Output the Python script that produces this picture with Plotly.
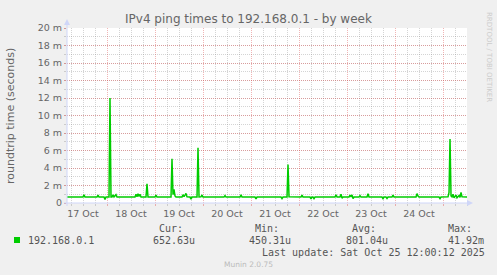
import plotly.graph_objects as go

# ---- data (ping round-trip time, milliseconds) ----
sample_times = [
    "2025-10-17 04:00", "2025-10-17 12:00", "2025-10-17 12:30", "2025-10-17 13:00",
    "2025-10-17 19:00", "2025-10-17 19:30", "2025-10-17 20:00", "2025-10-17 22:30",
    "2025-10-17 23:00", "2025-10-17 23:30", "2025-10-18 01:00", "2025-10-18 01:30",
    "2025-10-18 02:00", "2025-10-18 02:30", "2025-10-18 03:00", "2025-10-18 03:30",
    "2025-10-18 04:30", "2025-10-18 05:00", "2025-10-18 14:00", "2025-10-18 14:30",
    "2025-10-18 15:00", "2025-10-18 15:30", "2025-10-18 16:00", "2025-10-18 16:30",
    "2025-10-18 17:00", "2025-10-18 19:30", "2025-10-18 20:00", "2025-10-18 20:30",
    "2025-10-19 00:00", "2025-10-19 00:30", "2025-10-19 01:00", "2025-10-19 08:00",
    "2025-10-19 08:30", "2025-10-19 09:00", "2025-10-19 09:30", "2025-10-19 10:00",
    "2025-10-19 10:30", "2025-10-19 13:30", "2025-10-19 14:00", "2025-10-19 14:30",
    "2025-10-19 15:00", "2025-10-19 15:30", "2025-10-19 16:00", "2025-10-19 17:30",
    "2025-10-19 18:00", "2025-10-19 18:30", "2025-10-19 21:00", "2025-10-19 21:30",
    "2025-10-19 22:00", "2025-10-19 23:00", "2025-10-19 23:30", "2025-10-20 00:00",
    "2025-10-20 10:30", "2025-10-20 11:00", "2025-10-20 11:30", "2025-10-20 18:30",
    "2025-10-20 19:00", "2025-10-20 19:30", "2025-10-21 02:00", "2025-10-21 02:30",
    "2025-10-21 03:00", "2025-10-21 15:00", "2025-10-21 15:30", "2025-10-21 16:00",
    "2025-10-21 18:00", "2025-10-21 18:30", "2025-10-21 19:00", "2025-10-22 01:00",
    "2025-10-22 01:30", "2025-10-22 02:00", "2025-10-22 05:30", "2025-10-22 06:00",
    "2025-10-22 06:30", "2025-10-22 07:00", "2025-10-22 07:30", "2025-10-22 08:00",
    "2025-10-22 18:00", "2025-10-22 18:30", "2025-10-22 19:00", "2025-10-22 20:30",
    "2025-10-22 21:00", "2025-10-22 21:30", "2025-10-22 22:00", "2025-10-23 01:00",
    "2025-10-23 01:30", "2025-10-23 02:00", "2025-10-23 02:30", "2025-10-23 03:00",
    "2025-10-23 03:30", "2025-10-23 06:00", "2025-10-23 06:30", "2025-10-23 07:00",
    "2025-10-23 10:00", "2025-10-23 10:30", "2025-10-23 11:00", "2025-10-23 17:30",
    "2025-10-23 18:00", "2025-10-23 18:30", "2025-10-23 19:30", "2025-10-23 20:00",
    "2025-10-23 20:30", "2025-10-23 22:30", "2025-10-23 23:00", "2025-10-23 23:30",
    "2025-10-24 10:30", "2025-10-24 11:00", "2025-10-24 11:30", "2025-10-24 12:00",
    "2025-10-24 22:00", "2025-10-24 22:30", "2025-10-24 23:00", "2025-10-25 02:30",
    "2025-10-25 03:00", "2025-10-25 03:30", "2025-10-25 04:00", "2025-10-25 04:30",
    "2025-10-25 05:00", "2025-10-25 05:30", "2025-10-25 06:30", "2025-10-25 07:00",
    "2025-10-25 08:00", "2025-10-25 08:30", "2025-10-25 09:00", "2025-10-25 09:30",
    "2025-10-25 12:00",
]
rtt_ms = [
    0.68, 0.68, 0.95, 0.68,
    0.68, 0.90, 0.68, 0.68,
    0.42, 0.68, 0.68, 12.0,
    0.70, 0.70, 0.92, 0.70,
    0.95, 0.68, 0.68, 1.00,
    0.72, 1.05, 0.75, 1.00,
    0.68, 0.68, 2.20, 0.68,
    0.68, 0.90, 0.68, 0.68,
    5.05, 0.95, 1.55, 0.80,
    0.68, 0.68, 0.95, 0.72,
    0.90, 1.10, 0.70, 0.68,
    0.45, 0.68, 0.68, 6.30,
    0.68, 0.70, 0.92, 0.68,
    0.68, 0.85, 0.68, 0.68,
    0.95, 0.68, 0.68, 0.48,
    0.68, 0.68, 0.50, 0.68,
    0.68, 4.40, 0.70, 0.68,
    0.90, 0.68, 0.68, 0.48,
    0.68, 0.68, 0.50, 0.68,
    0.68, 0.95, 0.70, 0.70,
    1.00, 0.55, 0.68, 0.68,
    0.90, 0.70, 0.92, 0.50,
    0.68, 0.68, 0.85, 0.68,
    0.68, 1.05, 0.68, 0.68,
    0.50, 0.68, 0.68, 0.52,
    0.68, 0.68, 0.92, 0.68,
    0.68, 1.07, 0.80, 0.68,
    0.68, 0.50, 0.68, 0.70,
    1.20, 7.30, 0.80, 0.70,
    1.00, 0.60, 0.90, 0.60,
    0.85, 0.65, 1.20, 0.70,
    0.68,
]
x_range = ["2025-10-17 04:00", "2025-10-25 11:59:30"]
y_tick_vals = [0, 2, 4, 6, 8, 10, 12, 14, 16, 18, 20]
y_tick_text = ["0", "2 m", "4 m", "6 m", "8 m", "10 m", "12 m", "14 m", "16 m", "18 m", "20 m"]

series_name = "192.168.0.1"
stat_labels = ["Cur:", "Min:", "Avg:", "Max:"]
stat_values = ["652.63u", "450.31u", "801.04u", "41.92m"]
title_text = "IPv4 ping times to 192.168.0.1 - by week"
y_title = "roundtrip time (seconds)"
last_update = "Last update: Sat Oct 25 12:00:12 2025"
footer = "Munin 2.0.75"
watermark = "RRDTOOL / TOBI OETIKER"

# ---- layout helpers (pixel -> paper) ----
L, R, T, B = 67, 30, 28, 72
W, H = 497, 275
PW, PH = W - L - R, H - T - B


def px(x):
    return (x - L) / PW


def py(y):
    return (H - B - y) / PH


FONT = "DejaVu Sans"
MONO = "DejaVu Sans Mono"
TXT = "#666666"
MGRID = "rgba(222,79,79,0.42)"
GRID = "rgba(143,143,143,0.38)"
AXIS = "#CFD6F8"

fig = go.Figure(
    go.Scatter(
        x=sample_times, y=rtt_ms, mode="lines",
        line=dict(color="#00cc00", width=1.5),
        hoverinfo="skip", showlegend=False,
    )
)

fig.update_layout(
    width=W, height=H,
    margin=dict(l=L, r=R, t=T, b=B, pad=0),
    paper_bgcolor="#f0f0f0", plot_bgcolor="#ffffff",
    font=dict(family=FONT, color=TXT, size=10),
    showlegend=False,
)

fig.update_xaxes(
    type="date", range=x_range,
    tick0="2025-10-17", dtick=86400000,
    ticklabelmode="period", tickformat="%d %b",
    showgrid=True, gridcolor=MGRID, griddash="1px,1px", gridwidth=1,
    ticks="outside", ticklen=2, tickcolor=MGRID,
    minor=dict(tick0="2025-10-17", dtick=21600000, showgrid=True,
               gridcolor=GRID, griddash="1px,1px", gridwidth=1,
               ticks="outside", ticklen=2, tickcolor=GRID),
    showline=False, zeroline=False,
    tickfont=dict(family=FONT, size=9.5, color=TXT),
    fixedrange=True,
)
fig.update_yaxes(
    range=[0, 20], tickmode="array", tickvals=y_tick_vals, ticktext=y_tick_text,
    showgrid=True, gridcolor=MGRID, griddash="1px,1px", gridwidth=1,
    ticks="outside", ticklen=2, tickcolor=MGRID,
    minor=dict(tick0=0, dtick=1, showgrid=True, gridcolor=GRID,
               griddash="1px,1px", gridwidth=1,
               ticks="outside", ticklen=2, tickcolor=GRID),
    showline=False, zeroline=False,
    tickfont=dict(family=FONT, size=9.5, color=TXT),
    fixedrange=True,
)

shapes = [
    dict(type="line", xref="paper", yref="paper", x0=0, x1=0, y0=py(206), y1=py(21),
         line=dict(color=AXIS, width=1)),
    dict(type="line", xref="paper", yref="paper", x0=px(64), x1=px(470), y0=0, y1=0,
         line=dict(color=AXIS, width=1)),
    dict(type="path", xref="paper", yref="paper",
         path=f"M {px(64)} {py(25)} L {px(70)} {py(25)} L {px(67)} {py(19)} Z",
         fillcolor=AXIS, line=dict(color=AXIS, width=0)),
    dict(type="path", xref="paper", yref="paper",
         path=f"M {px(467)} {py(200)} L {px(467)} {py(206)} L {px(473)} {py(203)} Z",
         fillcolor=AXIS, line=dict(color=AXIS, width=0)),
    dict(type="rect", xref="paper", yref="paper",
         x0=px(14), x1=px(20), y0=py(243), y1=py(237),
         fillcolor="#00cc00", line=dict(color="#00cc00", width=0)),
]
fig.update_layout(shapes=shapes)

ann = []


def add(text, x, y, size=10, family=MONO, color="#555555", xanchor="left", angle=0):
    ann.append(dict(text=text, xref="paper", yref="paper", x=x, y=y, showarrow=False,
                    xanchor=xanchor, yanchor="middle", textangle=angle,
                    font=dict(family=family, size=size, color=color), borderpad=0))


add(title_text, px(248.5), py(19), size=12, family=FONT, color=TXT, xanchor="center")
add(y_title, px(10), py(116), size=11, family=FONT, color=TXT, xanchor="center", angle=-90)
add(watermark, px(489), py(57), size=7, family=FONT, color="#cccccc", xanchor="center", angle=90)
add(series_name, px(27), py(240))
label_x = [158, 254.3, 351, 446.7]
value_x = [152, 248.3, 345, 446.7]
for lab, lx in zip(stat_labels, label_x):
    add(lab, px(lx), py(228))
for val, vx in zip(stat_values, value_x):
    add(val, px(vx), py(240))
add(last_update, px(261.3), py(252))
add(footer, px(248), py(264), size=7.5, family=FONT, color="#bbbbbb", xanchor="center")
fig.update_layout(annotations=ann)

fig.write_html("out.html")
